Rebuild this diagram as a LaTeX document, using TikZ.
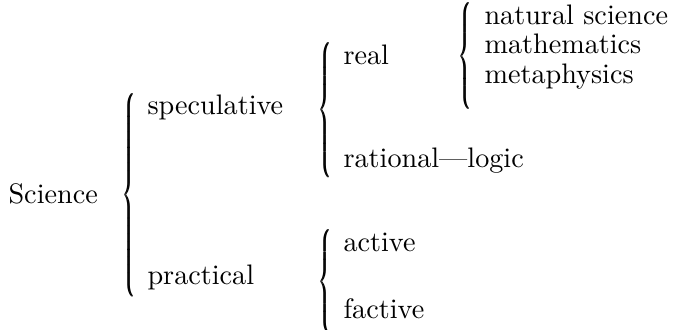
\documentclass[tikz,border=0pt]{standalone}
\usepackage{graphicx}
\newcommand{\bracebox}[2]{\resizebox*{#1}{#2}{$\nulldelimiterspace=0pt\delimiterfactor=1000\delimitershortfall=0pt\left\{\vcenter{\hbox{\rule{0pt}{#2}}}\right.$}}
\newcommand{\mybrace}[2]{\rlap{\bracebox{#1}{#2}}\kern0.3pt\bracebox{#1}{#2}}
\tikzset{
  lbl/.style={anchor=base west, inner sep=0pt, font=\fontsize{10pt}{12pt}\selectfont},
  brc/.style={anchor=west, inner sep=0pt}
}
\begin{document}
\begin{tikzpicture}[x={(0.3546pt,0pt)}, y={(0pt,-0.3546pt)}]
\useasboundingbox (0,0) rectangle (674,330);
% braces
\node[brc] (b1) at (122,195) {\mybrace{4.3pt}{72.3pt}};
\node[brc] (b2) at (318,110) {\mybrace{4.3pt}{47.9pt}};
\node[brc] (b3) at (318,282) {\mybrace{4.3pt}{36.9pt}};
\node[brc] (b4) at (458,56) {\mybrace{4.3pt}{37.9pt}};
% labels
\node[lbl] (sci) at (8,203) {Science};
\node[lbl] (spec) at (147,115) {speculative};
\node[lbl] (prac) at (147,285) {practical};
\node[lbl] (real) at (343,65) {real};
\node[lbl] (rat) at (343,167) {rational---logic};
\node[lbl] (act) at (343,252) {active};
\node[lbl] (fact) at (343,318) {factive};
\node[lbl] (nat) at (484,24) {natural science};
\node[lbl] (math) at (484,54) {mathematics};
\node[lbl] (meta) at (484,84) {metaphysics};
\end{tikzpicture}
\end{document}
